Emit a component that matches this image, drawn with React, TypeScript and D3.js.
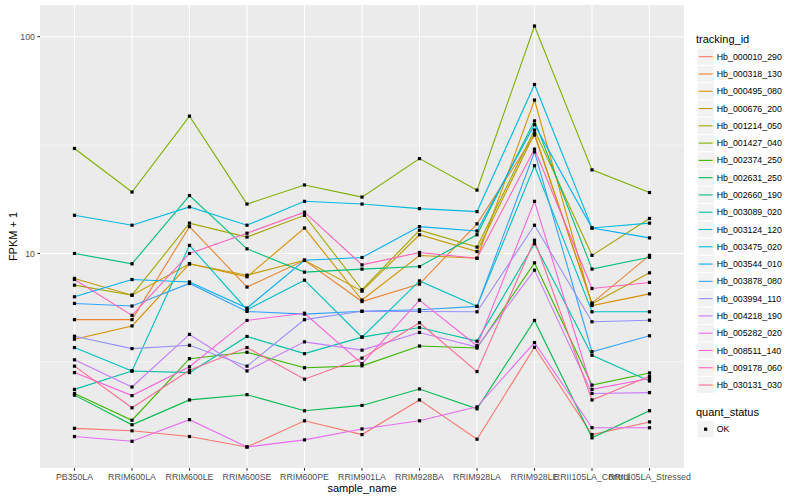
import * as d3 from "d3";

// x categories
const sampleNames = [
  "PB350LA", "RRIM600LA", "RRIM600LE", "RRIM600SE", "RRIM600PE", "RRIM901LA",
  "RRIM928BA", "RRIM928LA", "RRIM928LE", "RRII105LA_Control", "RRII105LA_Stressed",
];

const trackingIds = [
  "Hb_000010_290", "Hb_000318_130", "Hb_000495_080", "Hb_000676_200", "Hb_001214_050",
  "Hb_001427_040", "Hb_002374_250", "Hb_002631_250", "Hb_002660_190", "Hb_003089_020",
  "Hb_003124_120", "Hb_003475_020", "Hb_003544_010", "Hb_003878_080", "Hb_003994_110",
  "Hb_004218_190", "Hb_005282_020", "Hb_008511_140", "Hb_009178_060", "Hb_030131_030",
];

// ggplot hue palette, 20 levels
const trackingColors = [
  "#F8766D", "#EA8331", "#D89000", "#C09B00", "#A3A500", "#7CAE00", "#39B600", "#00BB4E",
  "#00BF7D", "#00C1A3", "#00BFC4", "#00BAE0", "#00B0F6", "#35A2FF", "#9590FF", "#C77CFF",
  "#E76BF3", "#FA62DB", "#FF62BC", "#FF6C91",
];

// FPKM + 1 per sample, one array per gene
const hb000010 = [1.56, 1.52, 1.43, 1.28, 1.69, 1.46, 2.11, 1.39, 3.69, 1.46, 1.67];
const hb000318 = [4.95, 4.95, 13.3, 7.0, 9.3, 6.0, 7.22, 13.7, 35.2, 5.9, 9.8];
const hb000495 = [4.02, 4.63, 8.96, 7.8, 13.1, 6.1, 9.79, 9.5, 51.0, 5.75, 6.51];
const hb000676 = [7.67, 6.42, 8.96, 7.94, 9.3, 6.7, 12.2, 10.2, 35.8, 5.85, 8.14];
const hb001214 = [7.14, 6.42, 13.8, 11.9, 15.0, 6.8, 12.8, 10.7, 37.1, 9.8, 14.5];
const hb001427 = [30.5, 19.2, 43.0, 16.9, 20.7, 18.2, 27.4, 19.6, 112.0, 24.3, 19.1];
const hb002374 = [2.26, 1.70, 3.27, 3.5, 2.97, 3.03, 3.74, 3.66, 9.05, 2.47, 2.81];
const hb002631 = [2.22, 1.62, 2.11, 2.23, 1.88, 1.99, 2.37, 1.92, 4.91, 1.41, 1.88];
const hb002660 = [10.0, 8.96, 18.5, 10.5, 8.2, 8.47, 8.7, 12.2, 40.9, 8.47, 9.6];
const hb003089 = [2.36, 2.87, 2.82, 4.14, 3.45, 4.11, 4.55, 3.94, 11.1, 3.39, 2.58];
const hb003124 = [3.68, 2.87, 10.9, 5.5, 7.53, 4.11, 7.47, 5.7, 25.4, 5.38, 5.38];
const hb003475 = [15.0, 13.5, 16.4, 13.5, 17.4, 16.9, 16.1, 15.6, 60.2, 13.1, 13.8];
const hb003544 = [6.31, 7.58, 7.39, 5.6, 9.3, 9.58, 13.3, 12.7, 39.3, 13.1, 11.8];
const hb003878 = [5.88, 5.72, 7.27, 5.4, 5.25, 5.41, 5.5, 5.7, 29.4, 3.52, 4.17];
const hb003994 = [4.15, 3.64, 3.77, 3.02, 4.95, 5.41, 5.4, 5.38, 13.5, 4.84, 4.92];
const hb004218 = [3.23, 2.42, 4.23, 2.87, 3.91, 3.58, 4.32, 3.7, 8.38, 2.26, 2.28];
const hb005282 = [1.43, 1.36, 1.71, 1.28, 1.38, 1.55, 1.69, 1.96, 3.88, 1.57, 1.57];
const hb008511 = [2.82, 2.21, 3.0, 4.91, 5.3, 3.1, 6.09, 3.75, 17.4, 2.36, 2.65];
const hb009178 = [7.58, 5.18, 10.0, 12.4, 15.5, 8.86, 10.1, 9.5, 30.3, 6.89, 7.35];
const hb030131 = [3.02, 1.94, 2.89, 3.68, 2.63, 3.29, 4.79, 2.85, 11.5, 2.11, 2.71];

const seriesValues = [
  hb000010, hb000318, hb000495, hb000676, hb001214, hb001427, hb002374, hb002631,
  hb002660, hb003089, hb003124, hb003475, hb003544, hb003878, hb003994, hb004218,
  hb005282, hb008511, hb009178, hb030131,
];

const yMajorTicks = [10, 100];
const yMinorTicks = [Math.pow(10, 0.5), Math.pow(10, 1.5)];
const quantStatus = ["OK"];

const W = 800;
const H = 500;
const panel = { left: 40, right: 684, top: 5, bottom: 468 };
const font = "'Liberation Sans', Arial, Helvetica, sans-serif";

export default function App() {
  const x = d3
    .scalePoint<string>()
    .domain(sampleNames)
    .range([panel.left, panel.right])
    .padding(0.6);

  // log scale with ggplot's 5% expansion in log space
  const logs = seriesValues.flat().map((v) => Math.log10(v));
  const lo = d3.min(logs) as number;
  const hi = d3.max(logs) as number;
  const pad = (hi - lo) * 0.05;
  const y = d3
    .scaleLog()
    .domain([Math.pow(10, lo - pad), Math.pow(10, hi + pad)])
    .range([panel.bottom, panel.top]);

  const line = d3
    .line<number>()
    .x((_, i) => x(sampleNames[i]) as number)
    .y((v) => y(v));

  const keyH = 17.28;
  const key0 = 56.7;
  const legendX = 697;

  return (
    <svg width={W} height={H} style={{ position: "absolute", left: 0, top: 0 }} fontFamily={font}>
      <rect x={0} y={0} width={W} height={H} fill="#ffffff" />
      <rect
        x={panel.left}
        y={panel.top}
        width={panel.right - panel.left}
        height={panel.bottom - panel.top}
        fill="#EBEBEB"
      />
      {yMinorTicks.map((t) => (
        <line key={"mn" + t} x1={panel.left} x2={panel.right} y1={y(t)} y2={y(t)} stroke="#fff" strokeWidth={0.55} />
      ))}
      {yMajorTicks.map((t) => (
        <line key={"mj" + t} x1={panel.left} x2={panel.right} y1={y(t)} y2={y(t)} stroke="#fff" strokeWidth={1.1} />
      ))}
      {sampleNames.map((s) => (
        <line key={"gx" + s} x1={x(s)} x2={x(s)} y1={panel.top} y2={panel.bottom} stroke="#fff" strokeWidth={1.1} />
      ))}

      {seriesValues.map((vals, i) => (
        <path key={"l" + i} d={line(vals) || ""} fill="none" stroke={trackingColors[i]} strokeWidth={1.1} />
      ))}
      {seriesValues.map((vals, i) =>
        vals.map((v, j) => (
          <rect
            key={"p" + i + "-" + j}
            x={(x(sampleNames[j]) as number) - 1.6}
            y={y(v) - 1.6}
            width={3.2}
            height={3.2}
            fill="#000"
          />
        ))
      )}

      {/* y axis */}
      {yMajorTicks.map((t) => (
        <g key={"yt" + t}>
          <line x1={panel.left - 2.7} x2={panel.left} y1={y(t)} y2={y(t)} stroke="#333" strokeWidth={1.1} />
          <text x={panel.left - 5} y={y(t)} dy="0.35em" textAnchor="end" fontSize={8.8} fill="#4D4D4D">
            {t}
          </text>
        </g>
      ))}
      <text
        transform={`translate(13.5,${(panel.top + panel.bottom) / 2}) rotate(-90)`}
        dy="0.35em"
        textAnchor="middle"
        fontSize={11}
        fill="#000"
      >
        FPKM + 1
      </text>

      {/* x axis */}
      {sampleNames.map((s) => (
        <g key={"xt" + s}>
          <line x1={x(s)} x2={x(s)} y1={panel.bottom} y2={panel.bottom + 2.7} stroke="#333" strokeWidth={1.1} />
          <text x={x(s)} y={480} textAnchor="middle" fontSize={8.8} fill="#4D4D4D">
            {s}
          </text>
        </g>
      ))}
      <text x={(panel.left + panel.right) / 2} y={492} textAnchor="middle" fontSize={11} fill="#000">
        sample_name
      </text>

      {/* legend: tracking_id */}
      <text x={legendX - 1} y={43} fontSize={11} fill="#000">
        tracking_id
      </text>
      {trackingIds.map((id, i) => {
        const cy = key0 + i * keyH;
        return (
          <g key={"lg" + id}>
            <rect x={legendX} y={cy - keyH / 2} width={keyH} height={keyH} fill="#F2F2F2" stroke="#fff" strokeWidth={1} />
            <line x1={legendX + 1.7} x2={legendX + keyH - 1.7} y1={cy} y2={cy} stroke={trackingColors[i]} strokeWidth={1.1} />
            <text x={legendX + keyH + 2.5} y={cy} dy="0.35em" fontSize={8.8} fill="#000">
              {id}
            </text>
          </g>
        );
      })}

      {/* legend: quant_status */}
      <text x={legendX - 1} y={415.5} fontSize={11} fill="#000">
        quant_status
      </text>
      {quantStatus.map((q, i) => {
        const cy = 429.2 + i * keyH;
        return (
          <g key={"qs" + q}>
            <rect x={legendX} y={cy - keyH / 2} width={keyH} height={keyH} fill="#F2F2F2" stroke="#fff" strokeWidth={1} />
            <rect x={legendX + keyH / 2 - 1.6} y={cy - 1.6} width={3.2} height={3.2} fill="#000" />
            <text x={legendX + keyH + 2.5} y={cy} dy="0.35em" fontSize={8.8} fill="#000">
              {q}
            </text>
          </g>
        );
      })}
    </svg>
  );
}
